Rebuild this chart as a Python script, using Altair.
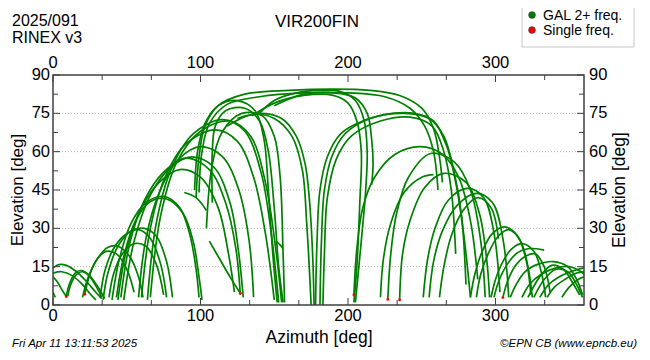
import altair as alt
import pandas as pd

# ---- satellite tracks (azimuth [deg], elevation [deg]) ----
tracks = {
    # low arcs, left
    "A1": ([0, 4, 9, 16, 23, 29, 33], [14.5, 15.8, 15.5, 13, 9, 5, 2.5]),
    "A2": ([0, 6, 13, 20, 25, 29], [12.5, 13, 11.5, 8, 4.5, 2]),
    "A3": ([0, 3, 6, 9], [11, 9, 6, 3.3]),
    "A4": ([0, 1.5], [5, 3]),
    "A5": ([9, 11, 15, 19, 24, 30, 35], [3.3, 8, 12.5, 13.5, 12, 7.5, 2.5]),
    "A6": ([10, 12, 16, 20, 25, 30, 33], [3.5, 8, 12, 13, 11, 6.5, 3]),
    "A7": ([21.5, 25, 30, 36, 43, 50, 55], [4.2, 12, 18, 21, 20, 14, 5]),
    "A8": ([20, 24, 30, 37, 44, 52, 58, 61], [3, 11, 18, 22.5, 23, 19, 11, 3]),
    "A9": ([32, 35, 41, 49, 58, 66, 73, 77], [3, 13, 22, 27.5, 29.5, 26, 16, 3]),
    "A10": ([34, 37, 44, 53, 62, 70, 77, 81], [2, 12, 23, 29, 30, 27, 17, 3]),
    "A11": ([38, 41, 47, 55, 63, 70, 75], [3, 12, 20, 24, 23, 16, 4]),
    # medium arcs, left
    "B1": ([40, 45, 53, 63, 75, 86, 93, 97, 99], [2, 18, 32, 40, 42.5, 38, 27, 14, 3]),
    "B2": ([43, 48, 56, 66, 77, 88, 95, 99, 101], [3, 19, 33, 40.5, 41.5, 36, 25, 11, 2]),
    "B3": ([44, 50, 60, 72, 86, 100, 112, 119, 123], [2, 22, 38, 48, 53, 50, 38, 20, 5]),
    "B4": ([46, 52, 62, 75, 90, 106, 117, 124, 127], [3, 24, 41, 52, 57.5, 53, 40, 22, 4]),
    "B5": ([48, 55, 66, 80, 94, 109, 120, 126, 129], [2, 25, 43, 54, 58, 54, 40, 20, 3]),
    "B6": ([58, 63, 72, 85, 100, 115, 126, 133, 136], [3, 26, 44, 57, 62, 58, 45, 25, 3]),
    "B7": ([60, 66, 76, 90, 110, 125, 136, 144, 150], [3, 30, 50, 63, 68.5, 64, 50, 28, 2]),
    "B8": ([64, 70, 80, 95, 115, 130, 141, 148, 153], [2, 32, 53, 67, 72.5, 68, 52, 28, 1]),
    "B9": ([66, 73, 84, 100, 120, 134, 144, 151, 155], [3, 35, 56, 68, 72, 66, 48, 22, 1]),
    "S1": ([89, 97, 104], [44, 42, 37]),
    "S2": ([106, 113, 120, 127], [25, 18, 11, 4.6]),
    "S3": ([151, 154, 156], [25, 23.5, 22]),
    # high arcs
    "C1": ([97, 99, 103, 112, 130, 160, 190, 215, 235, 250, 258, 262, 264],
           [42, 58, 70, 78, 82.5, 84, 84.5, 84, 82, 77, 69, 58, 48]),
    "C2": ([99, 101, 106, 118, 140, 170, 200, 225, 242, 252, 258, 261],
           [44, 60, 71, 78.5, 81.5, 83, 83, 81.5, 77, 70, 60, 45]),
    "C3": ([96, 98, 103, 112, 125, 137, 143, 146, 149, 152], [45, 60, 71, 78, 80, 76, 65, 45, 20, 1]),
    "C4": ([108, 108, 110, 117, 130, 140, 146, 150, 153, 156], [40, 60, 70, 76, 77, 72, 60, 38, 15, 1]),
    "C5": ([104, 108, 115, 128, 142, 150, 154, 156, 157], [30, 55, 68, 75, 74, 66, 50, 20, 1]),
    "C6": ([125, 140, 155, 165, 171, 174, 176, 177], [73, 75, 73, 66, 55, 40, 20, 0]),
    "C7": ([118, 135, 150, 162, 169, 172, 174, 175], [70, 74.5, 73, 66, 53, 32, 12, 0]),
    "C8": ([140, 150, 165, 180, 195, 205, 211, 213, 212, 209, 205], [75, 80, 83, 84, 83.5, 80, 72, 60, 45, 25, 1]),
    "C9": ([135, 150, 170, 190, 200, 206, 209, 208, 206, 204], [74, 79, 82, 82, 79, 72, 60, 40, 15, 1]),
    "C10": ([150, 170, 190, 205, 213, 216, 217, 216], [78, 82.5, 83, 81, 75, 65, 55, 47]),
    "C11": ([178, 179, 181, 186, 195, 210, 230, 245, 258, 267, 274, 279, 283],
            [0, 25, 45, 58, 67, 72, 75, 75, 72, 62, 45, 25, 3]),
    "C12": ([181, 182, 184, 189, 198, 215, 238, 255, 265, 272, 277, 280],
            [0, 25, 45, 58, 67, 73, 75, 73, 66, 52, 35, 8]),
    "C13": ([183, 184, 186, 192, 202, 222, 242, 257, 265, 270, 273],
            [0, 20, 42, 57, 66, 72, 73.5, 70, 60, 45, 20]),
    # medium arcs, right
    "D1": ([204, 206, 210, 218, 232, 249, 264, 275, 283, 288], [3.9, 22, 38, 50, 59, 62, 59, 50, 33, 10]),
    "D2": ([227, 229, 233, 241, 256, 272, 283, 290, 293], [2.2, 20, 36, 50, 59.3, 56, 45, 25, 3]),
    "D3": ([235, 237, 242, 252, 265, 280, 289, 294, 296], [2, 20, 33, 46, 51.5, 48, 36, 18, 3]),
    "D3b": ([222, 224, 229, 238, 250, 258], [3, 18, 32, 44, 50, 51]),
    "D4": ([251, 254, 259, 268, 281, 292, 299, 303], [3, 18, 30, 41, 45.6, 42, 28, 5]),
    "D5": ([255, 258, 264, 274, 287, 298, 305, 309], [3, 17, 29, 39, 43.7, 40, 26, 3]),
    "D5b": ([262, 265, 270, 278, 288, 297, 302], [3, 15, 27, 37, 42, 38, 26]),
    "D6": ([283, 286, 291, 298, 306, 315, 321, 324], [3, 12, 21, 28, 30.6, 27, 17, 4]),
    "D7": ([287, 290, 295, 302, 309, 317, 322, 325], [3, 12, 20, 27, 29.5, 25, 15, 3]),
    "D8": ([297, 300, 305, 311, 318, 326, 331, 334], [3, 10, 17, 22, 24, 21, 13, 3]),
    "D9": ([299, 302, 308, 315, 322, 328, 333], [3, 9, 16, 20.5, 22, 22, 21.5]),
    "D10": ([305, 308, 313, 320, 327, 333, 337], [2.9, 9, 15, 19, 20, 15, 5]),
    # low arcs, right
    "E1": ([310, 314, 320, 329, 339, 349, 355, 359], [3, 8, 13, 16, 17, 15, 10, 4]),
    "E2": ([318, 323, 331, 341, 350, 358, 360], [3, 8, 12, 14.5, 15, 13, 12]),
    "E3": ([330, 336, 343, 351, 360], [3, 8, 11, 13, 14.5]),
    "E4": ([335, 340, 347, 355, 360], [3, 7, 10, 12.5, 13]),
    "E5": ([345, 350, 356, 360], [3, 7, 10, 11]),
    "E6": ([322, 330, 338, 346, 352, 357], [3, 11, 15.5, 14, 9, 4]),
    "E7": ([326, 333, 341, 349, 355, 359], [3, 10, 14, 13, 8, 3]),
}

# single-frequency epochs (red)
red_az = [9, 21.5, 127, 204, 227, 235, 305]
red_el = [3.3, 4.2, 4.6, 3.9, 2.2, 2.0, 2.9]

x_labels = [0, 100, 200, 300]
x_minor = [33.33, 66.67, 133.33, 166.67, 233.33, 266.67, 333.33]
y_labels = [0, 15, 30, 45, 60, 75, 90]
y_minor = [7.5, 22.5, 37.5, 52.5, 67.5, 82.5]
grid_el = [15, 30, 45, 60, 75]

rows = []
for name, (az, el) in tracks.items():
    for i, (a, e) in enumerate(zip(az, el)):
        rows.append({"track": name, "i": i, "az": a, "el": e})
df = pd.DataFrame(rows)

W, H = 531, 230
FONT = "Liberation Sans"
GREEN = "#008000"
xs = alt.Scale(domain=[0, 360], nice=False, zero=False)
ys = alt.Scale(domain=[0, 90], nice=False, zero=False)
one = pd.DataFrame({"a": [0]})

grid = alt.Chart(pd.DataFrame({"v": grid_el})).mark_rule(
    color="#b0b0b0", strokeDash=[1, 2], strokeWidth=1
).encode(y=alt.Y("v:Q", scale=ys, axis=None), x=alt.value(0), x2=alt.value(W))

lines = alt.Chart(df).mark_line(
    color=GREEN, strokeWidth=1.7, interpolate="catmull-rom", clip=True
).encode(
    x=alt.X("az:Q", scale=xs, axis=None),
    y=alt.Y("el:Q", scale=ys, axis=None),
    detail="track:N",
    order="i:Q",
)

reds = alt.Chart(pd.DataFrame({"az": red_az, "el": red_el})).mark_circle(
    color="red", size=8, opacity=1
).encode(x=alt.X("az:Q", scale=xs, axis=None), y=alt.Y("el:Q", scale=ys, axis=None))

frame = alt.Chart(one).mark_rect(
    fillOpacity=0, stroke="#404040", strokeWidth=1.5
).encode(x=alt.value(0), x2=alt.value(W), y=alt.value(0), y2=alt.value(H))

def xtick(vals, y0, y1):
    return alt.Chart(pd.DataFrame({"v": vals})).mark_rule(color="#404040", strokeWidth=1).encode(
        x=alt.X("v:Q", scale=xs, axis=None), y=alt.value(y0), y2=alt.value(y1))

def ytick(vals, x0, x1):
    return alt.Chart(pd.DataFrame({"v": vals})).mark_rule(color="#404040", strokeWidth=1).encode(
        y=alt.Y("v:Q", scale=ys, axis=None), x=alt.value(x0), x2=alt.value(x1))

ticks = [
    xtick(x_labels, H, H - 7), xtick(x_minor, H, H - 5),
    xtick(x_labels, 0, 7), xtick(x_minor, 0, 5),
    ytick(y_labels, 0, 7), ytick(y_minor, 0, 5),
    ytick(y_labels, W, W - 7), ytick(y_minor, W, W - 5),
]

def xlab(y, baseline):
    return alt.Chart(pd.DataFrame({"v": x_labels})).mark_text(
        font=FONT, fontSize=16.5, color="black", baseline=baseline, align="center"
    ).encode(x=alt.X("v:Q", scale=xs, axis=None), y=alt.value(y), text="v:Q")

def ylab(x, align):
    return alt.Chart(pd.DataFrame({"v": y_labels})).mark_text(
        font=FONT, fontSize=16.5, color="black", baseline="middle", align=align
    ).encode(y=alt.Y("v:Q", scale=ys, axis=None), x=alt.value(x), text="v:Q")

labels = [xlab(H + 3, "top"), xlab(-4, "bottom"), ylab(-3, "right"), ylab(W + 5, "left")]

def txt(s, x, y, size=16, align="left", angle=0, italic=False, baseline="alphabetic"):
    kw = dict(font=FONT, fontSize=size, color="black", align=align, baseline=baseline, text=s)
    if angle:
        kw["angle"] = angle
    if italic:
        kw["fontStyle"] = "italic"
    return alt.Chart(one).mark_text(**kw).encode(x=alt.value(x), y=alt.value(y))

texts = [
    txt("2025/091", -41, -49, 16),
    txt("RINEX v3", -41, -32.5, 16),
    txt("VIR200FIN", 264, -48, 17, align="center"),
    txt("Azimuth [deg]", 266, 268, 17.5, align="center"),
    txt("Elevation [deg]", -35.5, 115, 17, align="center", angle=270, baseline="middle"),
    txt("Elevation [deg]", 566.5, 115, 17.5, align="center", angle=270, baseline="middle"),
    txt("Fri Apr 11 13:11:53 2025", -41, 272, 11.5, italic=True),
    txt("©EPN CB (www.epncb.eu)", 584, 272, 11.5, align="right", italic=True),
]

legend_names = ["GAL 2+ freq.", "Single freq."]
legend_colors = [GREEN, "red"]
legend_box = alt.Chart(one).mark_rect(fill="white", stroke="#c8c8c8", strokeWidth=1).encode(
    x=alt.value(469), x2=alt.value(581), y=alt.value(-73), y2=alt.value(-28))
legend_items = []
for k, (nm, col) in enumerate(zip(legend_names, legend_colors)):
    legend_items.append(alt.Chart(one).mark_circle(color=col, size=45, opacity=1, stroke="#202020", strokeWidth=0.6)
                        .encode(x=alt.value(479), y=alt.value(-60 + 15 * k)))
    legend_items.append(txt(nm, 490, -55 + 15 * k, 14))

chart = alt.layer(
    grid, lines, reds, frame, *ticks, *labels, *texts, legend_box, *legend_items
).properties(
    width=W, height=H,
    padding={"left": 45, "top": 67, "right": 56, "bottom": 46},
    autosize=alt.AutoSizeParams(type="none"),
).configure_view(stroke=None)

chart.save("out.html", embed_options={"renderer": "svg", "actions": False})
